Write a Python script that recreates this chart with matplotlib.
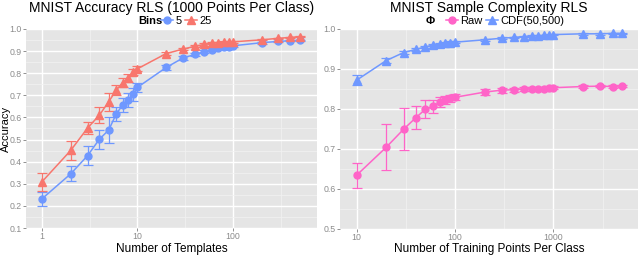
import matplotlib
matplotlib.use("Agg")
import matplotlib.pyplot as plt
from matplotlib.ticker import FixedLocator, NullFormatter
from matplotlib.lines import Line2D

plt.rcParams['font.family'] = ['Liberation Sans', 'DejaVu Sans']

# ---- left panel: accuracy vs number of templates ----
templates = [1, 2, 3, 4, 5, 6, 7, 8, 9, 10, 20, 30, 40, 50, 60, 70, 80, 90, 100, 200, 300, 400, 500]
acc_5 = [0.232, 0.345, 0.427, 0.502, 0.543, 0.616, 0.656, 0.679, 0.704, 0.736, 0.826, 0.869, 0.885,
         0.898, 0.907, 0.912, 0.917, 0.920, 0.924, 0.938, 0.944, 0.947, 0.948]
err_5 = [0.033, 0.034, 0.043, 0.043, 0.057, 0.032, 0.030, 0.030, 0.028, 0.022, 0.010, 0.008, 0.006,
         0.005, 0.005, 0.005, 0.004, 0.004, 0.004, 0.004, 0.003, 0.003, 0.003]
acc_25 = [0.309, 0.451, 0.552, 0.611, 0.671, 0.724, 0.757, 0.780, 0.805, 0.820, 0.889, 0.909, 0.922,
          0.930, 0.935, 0.938, 0.940, 0.941, 0.942, 0.951, 0.958, 0.962, 0.965]
err_25 = [0.040, 0.043, 0.028, 0.034, 0.040, 0.022, 0.020, 0.018, 0.015, 0.012, 0.008, 0.006, 0.005,
          0.005, 0.004, 0.004, 0.004, 0.004, 0.004, 0.003, 0.003, 0.003, 0.003]

# ---- right panel: sample complexity ----
train_pts = [10, 20, 30, 40, 50, 60, 70, 80, 90, 100, 200, 300, 400, 500, 600, 700, 800, 900, 1000,
             2000, 3000, 4000, 5000]
raw = [0.634, 0.704, 0.749, 0.778, 0.799, 0.806, 0.817, 0.823, 0.826, 0.829, 0.842, 0.847, 0.848,
       0.850, 0.850, 0.851, 0.851, 0.852, 0.853, 0.856, 0.857, 0.856, 0.858]
raw_err = [0.031, 0.057, 0.052, 0.029, 0.023, 0.016, 0.012, 0.010, 0.009, 0.008, 0.007, 0.006, 0.005,
           0.005, 0.004, 0.004, 0.004, 0.004, 0.004, 0.003, 0.003, 0.003, 0.003]
cdf = [0.872, 0.921, 0.941, 0.949, 0.955, 0.960, 0.963, 0.965, 0.966, 0.967, 0.973, 0.977, 0.979,
       0.981, 0.982, 0.983, 0.984, 0.985, 0.986, 0.988, 0.988, 0.989, 0.989]
cdf_err = [0.013, 0.006, 0.004, 0.004, 0.003, 0.003, 0.003, 0.003, 0.003, 0.003, 0.002, 0.002, 0.002,
           0.002, 0.002, 0.002, 0.002, 0.002, 0.002, 0.002, 0.002, 0.002, 0.002]

BLUE = "#6F98FF"
RED = "#F8766D"
PINK = "#FF64C8"
W, H = 640, 266

fig = plt.figure(figsize=(6.4, 2.66), dpi=100)


def style(ax, xlim, ylim, yticks, xmajor, xminor):
    ax.set_facecolor("#E5E5E5")
    ax.set_xscale("log")
    ax.set_xlim(*xlim)
    ax.set_ylim(*ylim)
    ax.xaxis.set_major_locator(FixedLocator(xmajor))
    ax.xaxis.set_minor_locator(FixedLocator(xminor))
    ax.xaxis.set_minor_formatter(NullFormatter())
    ax.set_xticklabels([str(v) for v in xmajor])
    ax.set_yticks(yticks)
    ax.set_yticks([(a + b) / 2 for a, b in zip(yticks[:-1], yticks[1:])], minor=True)
    ax.set_yticklabels(["%.1f" % v for v in yticks])
    ax.grid(True, which="major", color="white", lw=1.0)
    ax.grid(True, which="minor", color="#F2F2F2", lw=0.5)
    ax.set_axisbelow(True)
    for s in ax.spines.values():
        s.set_visible(False)
    ax.tick_params(which="major", length=2, width=0.6, color="#7F7F7F", labelcolor="#8C8C8C",
                   labelsize=6.3, pad=1)
    ax.tick_params(which="minor", length=0)


def series(ax, x, y, e, color, marker, ms):
    ax.errorbar(x, y, yerr=e, color=color, lw=1.1, elinewidth=0.9, capsize=3.5, capthick=0.9,
                marker=marker, ms=ms, mec=color, mfc=color, zorder=3)


# left axes
ax1 = fig.add_axes([26 / W, 1 - 228 / H, 291 / W, 199 / H])
style(ax1, (0.68, 760), (0.1, 1.0), [0.1 * i for i in range(1, 11)], [1, 10, 100], [3.162, 31.62, 316.2])
series(ax1, templates, acc_5, err_5, BLUE, "o", 5)
series(ax1, templates, acc_25, err_25, RED, "^", 5.5)
ax1.set_title("MNIST Accuracy RLS (1000 Points Per Class)", fontsize=10, pad=12.5)
ax1.set_xlabel("Number of Templates", fontsize=8.5, labelpad=1)
ax1.set_ylabel("Accuracy", fontsize=8)
ax1.yaxis.set_label_coords(-0.053, 0.5)

# right axes
ax2 = fig.add_axes([340 / W, 1 - 228.7 / H, 298 / W, 199.7 / H])
style(ax2, (6.77, 7260), (0.5, 1.0), [0.5, 0.6, 0.7, 0.8, 0.9, 1.0], [10, 100, 1000], [31.62, 316.2, 3162])
series(ax2, train_pts, raw, raw_err, PINK, "o", 5)
series(ax2, train_pts, cdf, cdf_err, BLUE, "^", 5.5)
ax2.set_title("MNIST Sample Complexity RLS", fontsize=10, pad=12.5)
ax2.set_xlabel("Number of Training Points Per Class", fontsize=8.5, labelpad=1)

# legends placed along the top, ggplot style
ly = 1 - 21 / H
fig.text(138 / W, ly, "Bins", fontsize=8, fontweight="bold", va="center", ha="left")
h5 = Line2D([], [], color=BLUE, marker="o", ms=5, lw=1.1)
h25 = Line2D([], [], color=RED, marker="^", ms=5.5, lw=1.1)
fig.legend([h5, h25], ["5", "25"], loc="center left", bbox_to_anchor=(161 / W, ly), ncol=2,
           frameon=False, fontsize=8, handlelength=1.1, handletextpad=0.2, columnspacing=0.3,
           borderpad=0, borderaxespad=0)

fig.text(430 / W, ly, "Φ", fontsize=8, fontweight="bold", va="center", ha="center")
hr = Line2D([], [], color=PINK, marker="o", ms=5, lw=1.1)
hc = Line2D([], [], color=BLUE, marker="^", ms=5.5, lw=1.1)
fig.legend([hr, hc], ["Raw", "CDF(50,500)"], loc="center left", bbox_to_anchor=(446 / W, ly), ncol=2,
           frameon=False, fontsize=8, handlelength=1.1, handletextpad=0.2, columnspacing=0.3,
           borderpad=0, borderaxespad=0)

fig.savefig("out.png", dpi=100)
